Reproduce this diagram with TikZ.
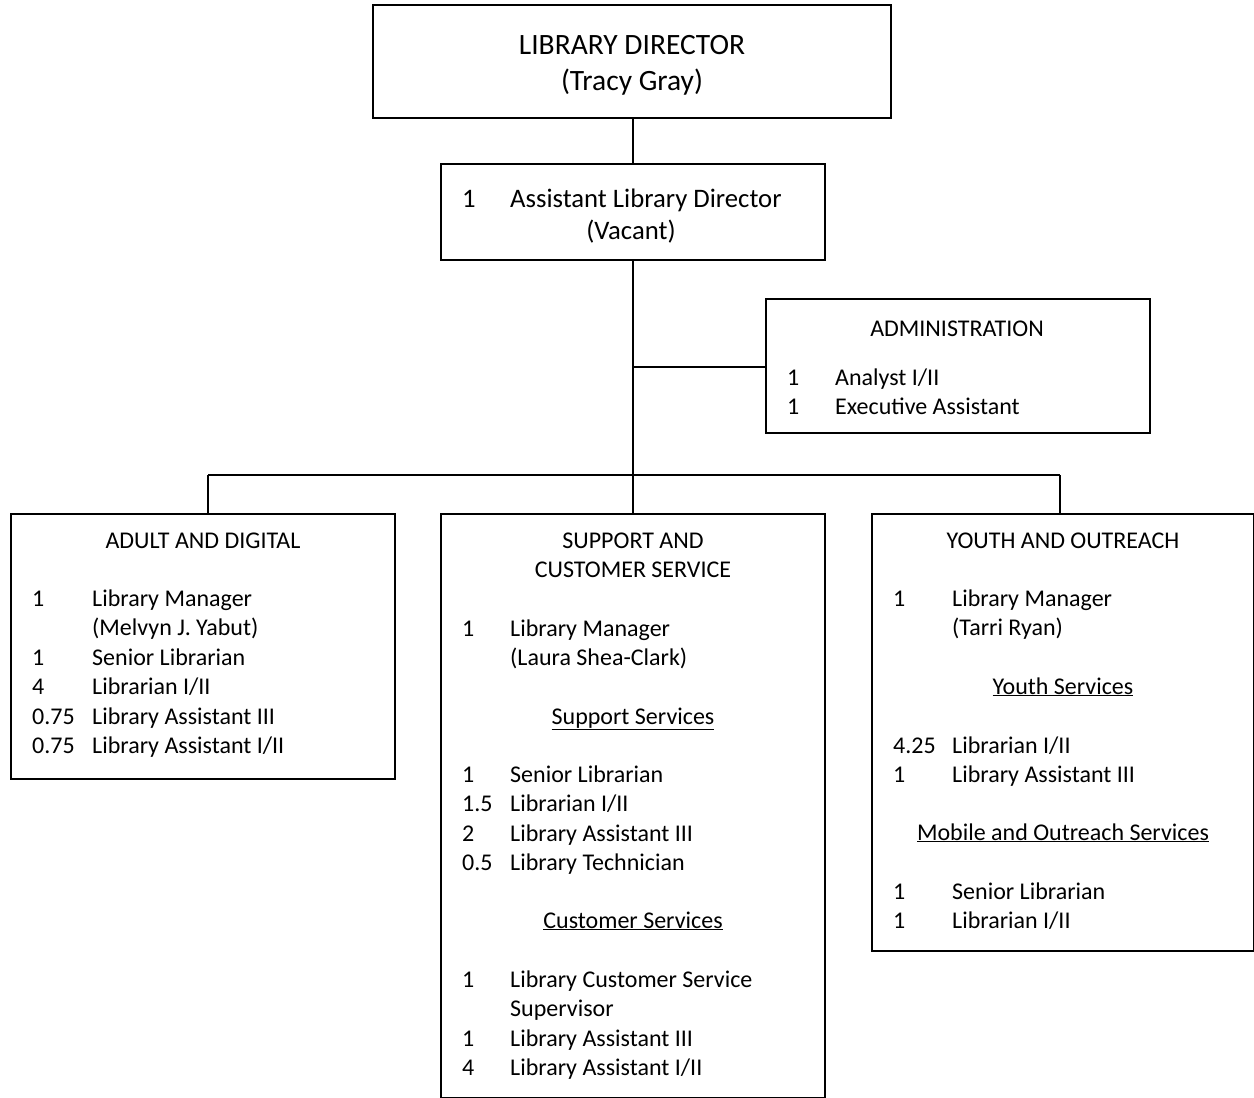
\documentclass[tikz,border=0pt]{standalone}
\usepackage{fontspec}
\setmainfont{Carlito}
\tikzset{
 box/.style={draw, line width=1.6pt, inner sep=0pt},
 conn/.style={line width=1.6pt},
 txt/.style={inner sep=0pt, anchor=base west, font=\fontsize{24}{29}\selectfont},
 ctxt/.style={inner sep=0pt, anchor=base, font=\fontsize{24}{29}\selectfont},
 mtxt/.style={inner sep=0pt, anchor=base west, font=\fontsize{26.7}{32}\selectfont},
 mctxt/.style={inner sep=0pt, anchor=base, font=\fontsize{26.7}{32}\selectfont},
 big/.style={inner sep=0pt, anchor=base, font=\fontsize{29.5}{35}\selectfont}
}
\begin{document}
\begin{tikzpicture}[x=1pt,y=-1pt]
\useasboundingbox (0,0) rectangle (1254,1098);
% boxes
\node[box, minimum width=518pt, minimum height=113pt] (dir) at (632,61.5) {};
\node[box, minimum width=384pt, minimum height=96pt] (asst) at (633,212) {};
\node[box, minimum width=384pt, minimum height=134pt] (admin) at (958,366) {};
\node[box, minimum width=384pt, minimum height=265pt] (adult) at (203,646.5) {};
\node[box, minimum width=384pt, minimum height=584pt] (supp) at (633,806) {};
\node[box, minimum width=382pt, minimum height=437pt] (youth) at (1063,732.5) {};
% connectors
\coordinate (j1) at (633,367);
\coordinate (j2) at (633,475);
\coordinate (la) at (208,475);
\coordinate (ly) at (1060,475);
\draw[conn] (asst.north |- dir.south) -- (asst.north);
\draw[conn] (asst.south) -- (j2);
\draw[conn] (j1) -- (j1 -| admin.west);
\draw[conn] (la) -- (ly);
\draw[conn] (la) -- (la |- adult.north);
\draw[conn] (j2) -- (supp.north);
\draw[conn] (ly) -- (ly |- youth.north);
% director
\node[big] (t1) at (632,54) {LIBRARY DIRECTOR};
\node[big] (t2) at (632,90) {(Tracy Gray)};
% assistant
\node[mtxt] (a1) at (462,207) {1};
\node[mtxt] (a2) at (510,207) {Assistant Library Director};
\node[mctxt] (a3) at (631,239) {(Vacant)};
% admin
\node[ctxt] (m0) at (957,336) {ADMINISTRATION};
\node[txt] (m1) at (787,385) {1};
\node[txt] (m2) at (835,385) {Analyst I/II};
\node[txt] (m3) at (787,414) {1};
\node[txt] (m4) at (835,414) {Executive Assistant};
% adult and digital
\node[ctxt] (d0) at (203,548) {ADULT AND DIGITAL};
\node[txt] (d1n) at (32,606) {1};
\node[txt] (d1) at (92,606) {Library Manager};
\node[txt] (d1b) at (92,635) {(Melvyn J. Yabut)};
\node[txt] (d2n) at (32,665) {1};
\node[txt] (d2) at (92,665) {Senior Librarian};
\node[txt] (d3n) at (32,694) {4};
\node[txt] (d3) at (92,694) {Librarian I/II};
\node[txt] (d4n) at (32,724) {0.75};
\node[txt] (d4) at (92,724) {Library Assistant III};
\node[txt] (d5n) at (32,753) {0.75};
\node[txt] (d5) at (92,753) {Library Assistant I/II};
% support and customer service
\node[ctxt] (s0) at (633,548) {SUPPORT AND};
\node[ctxt] (s0b) at (633,577) {CUSTOMER SERVICE};
\node[txt] (s1n) at (462,636) {1};
\node[txt] (s1) at (510,636) {Library Manager};
\node[txt] (s1b) at (510,665) {(Laura Shea-Clark)};
\node[ctxt] (sh1) at (633,724) {\underline{Support Services}};
\node[txt] (s2n) at (462,782) {1};
\node[txt] (s2) at (510,782) {Senior Librarian};
\node[txt] (s3n) at (462,811) {1.5};
\node[txt] (s3) at (510,811) {Librarian I/II};
\node[txt] (s4n) at (462,841) {2};
\node[txt] (s4) at (510,841) {Library Assistant III};
\node[txt] (s5n) at (462,870) {0.5};
\node[txt] (s5) at (510,870) {Library Technician};
\node[ctxt] (sh2) at (633,928) {\underline{Customer Services}};
\node[txt] (s6n) at (462,987) {1};
\node[txt] (s6) at (510,987) {Library Customer Service};
\node[txt] (s6b) at (510,1016) {Supervisor};
\node[txt] (s7n) at (462,1046) {1};
\node[txt] (s7) at (510,1046) {Library Assistant III};
\node[txt] (s8n) at (462,1075) {4};
\node[txt] (s8) at (510,1075) {Library Assistant I/II};
% youth and outreach
\node[ctxt] (y0) at (1063,548) {YOUTH AND OUTREACH};
\node[txt] (y1n) at (893,606) {1};
\node[txt] (y1) at (952,606) {Library Manager};
\node[txt] (y1b) at (952,635) {(Tarri Ryan)};
\node[ctxt] (yh1) at (1063,694) {\underline{Youth Services}};
\node[txt] (y2n) at (893,753) {4.25};
\node[txt] (y2) at (952,753) {Librarian I/II};
\node[txt] (y3n) at (893,782) {1};
\node[txt] (y3) at (952,782) {Library Assistant III};
\node[ctxt] (yh2) at (1063,840) {\underline{Mobile and Outreach Services}};
\node[txt] (y4n) at (893,899) {1};
\node[txt] (y4) at (952,899) {Senior Librarian};
\node[txt] (y5n) at (893,928) {1};
\node[txt] (y5) at (952,928) {Librarian I/II};
\end{tikzpicture}
\end{document}
